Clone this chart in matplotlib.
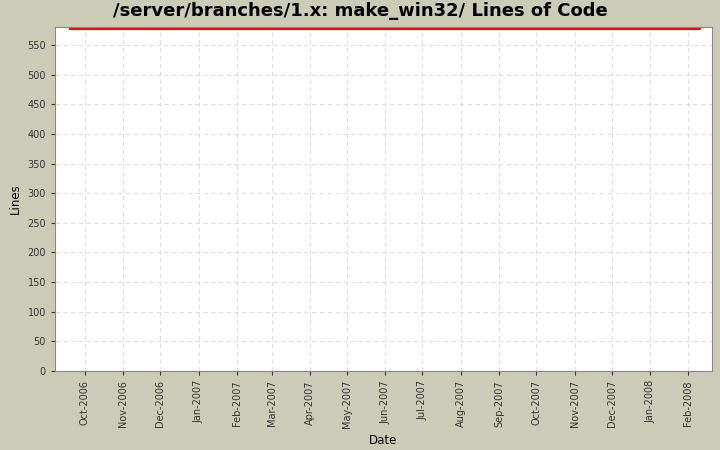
import matplotlib
matplotlib.use("Agg")
import matplotlib.pyplot as plt
import matplotlib.dates as mdates
import datetime as dt

dates = [dt.datetime(2006,9,19), dt.datetime(2008,2,10), dt.datetime(2008,2,10)]
lines = [577, 577, 581]
tick_dates = [dt.datetime(2006+(9+i)//12, (9+i)%12+1, 1) for i in range(17)]

bg = "#cccbb8"
fig = plt.figure(figsize=(7.2,4.5), dpi=100, facecolor=bg)
ax = fig.add_axes([55/720, 79/450, 657/720, 344/450])
ax.set_facecolor("white")
ax.plot(dates, lines, color="red", lw=1.5, drawstyle="steps-post")
ax.set_xlim(dt.datetime(2006,9,7), dt.datetime(2008,2,20))
ax.set_ylim(0, 580.5)
ax.set_yticks(range(0,551,50))
ax.set_xticks(tick_dates)
ax.xaxis.set_major_formatter(mdates.DateFormatter("%b-%Y"))
plt.setp(ax.get_xticklabels(), rotation=90)
ax.tick_params(labelsize=7, colors="#333333", length=3)
ax.grid(True, color="#dddddd", ls=(0,(4,3)), lw=0.8)
for s in ax.spines.values(): s.set_color("#888888")
ax.set_xlabel("Date", fontsize=8.5)
ax.set_ylabel("Lines", fontsize=8.5)
fig.suptitle("/server/branches/1.x: make_win32/ Lines of Code", fontsize=13, fontweight="bold", y=0.995)
fig.savefig("out.png", dpi=100, facecolor=bg)
